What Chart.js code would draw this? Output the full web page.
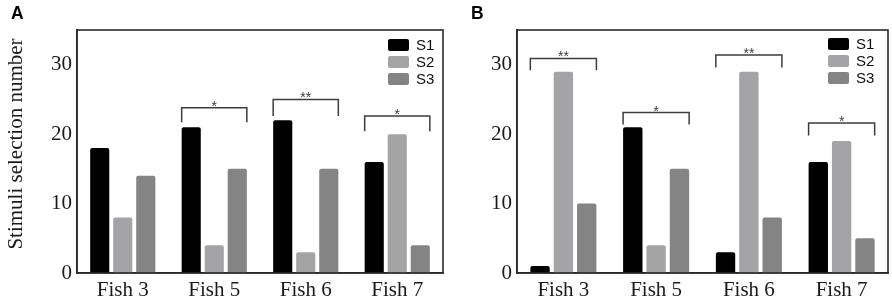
<!DOCTYPE html>
<html>
<head>
<meta charset="utf-8">
<script src="https://cdn.jsdelivr.net/npm/chart.js@4.4.1/dist/chart.umd.min.js"></script>
<style>
  html, body { margin: 0; padding: 0; background: #fff; }
  #wrap { position: relative; width: 892px; height: 307px; overflow: hidden; }
  .panel { position: absolute; top: 0; height: 307px; }
  #pa { left: 0; width: 450px; }
  #pb { left: 450px; width: 442px; }
  .letter { position: absolute; top: 3px; font: bold 17.5px "Liberation Sans", Arial, sans-serif; color: #000; }
</style>
</head>
<body>
<div id="wrap">
  <div class="panel" id="pa"><canvas id="ca" width="450" height="307"></canvas></div>
  <div class="panel" id="pb"><canvas id="cb" width="442" height="307"></canvas></div>
  <div class="letter" style="left:11px;">A</div>
  <div class="letter" style="left:471px;">B</div>
</div>
<script>
// ---- data ----
const categories = ['Fish 3', 'Fish 5', 'Fish 6', 'Fish 7'];
const seriesNames = ['S1', 'S2', 'S3'];
const seriesColors = ['#000000', '#a4a4a7', '#848484'];

const aS1 = [18, 21, 22, 16];
const aS2 = [8, 4, 3, 20];
const aS3 = [14, 15, 15, 4];

const bS1 = [1, 21, 3, 16];
const bS2 = [29, 4, 29, 19];
const bS3 = [10, 15, 8, 5];

const yTicks = [0, 10, 20, 30];
const yMax = 35;
const yTitle = 'Stimuli selection number';

// significance brackets: category index, top value, leg bottom value, label
const aBracketCat = [1, 2, 3];
const aBracketTop = [23.8, 25.0, 22.6];
const aBracketLeg = [21.7, 22.6, 20.4];
const aBracketLabel = ['*', '**', '*'];

const bBracketCat = [0, 1, 2, 3];
const bBracketTop = [30.9, 23.1, 31.4, 21.6];
const bBracketLeg = [29.2, 21.4, 29.6, 19.8];
const bBracketLabel = ['**', '*', '**', '*'];

const SERIF = '"Liberation Serif", "Times New Roman", serif';
const SANS = '"Liberation Sans", Arial, sans-serif';

const framePlugin = {
  id: 'frame',
  afterDraw(chart) {
    const { ctx, chartArea: a } = chart;
    ctx.save();
    ctx.strokeStyle = '#2a2a2a';
    ctx.lineWidth = 1.6;
    ctx.strokeRect(a.left, a.top, a.right - a.left, a.bottom - a.top);
    ctx.restore();
  }
};

const bracketPlugin = {
  id: 'brackets',
  afterDatasetsDraw(chart, args, opts) {
    const { ctx } = chart;
    const y = chart.scales.y;
    const first = chart.getDatasetMeta(0).data;
    const last = chart.getDatasetMeta(chart.data.datasets.length - 1).data;
    ctx.save();
    ctx.strokeStyle = '#3c3c3c';
    ctx.lineWidth = 1.5;
    opts.cats.forEach((ci, k) => {
      const b0 = first[ci], b1 = last[ci];
      const x0 = b0.x - b0.width / 2;
      const x1 = b1.x + b1.width / 2;
      const yt = y.getPixelForValue(opts.top[k]);
      const yl = y.getPixelForValue(opts.leg[k]);
      ctx.beginPath();
      ctx.moveTo(x0, yl);
      ctx.lineTo(x0, yt);
      ctx.lineTo(x1, yt);
      ctx.lineTo(x1, yl);
      ctx.stroke();
      ctx.fillStyle = '#3c3c3c';
      ctx.font = '14px ' + SANS;
      ctx.textAlign = 'center';
      ctx.textBaseline = 'alphabetic';
      ctx.fillText(opts.labels[k], (x0 + x1) / 2, yt + 3);
    });
    ctx.restore();
  }
};

const legendPlugin = {
  id: 'insideLegend',
  afterDraw(chart, args, opts) {
    const { ctx } = chart;
    ctx.save();
    chart.data.datasets.forEach((ds, i) => {
      const x = opts.x;
      const y = opts.y + i * 17;
      ctx.fillStyle = ds.backgroundColor;
      ctx.beginPath();
      ctx.roundRect(x, y, 21, 12, 2);
      ctx.fill();
      ctx.fillStyle = '#111';
      ctx.font = '15px ' + SANS;
      ctx.textAlign = 'left';
      ctx.textBaseline = 'middle';
      ctx.fillText(ds.label, x + 28, y + 6.5);
    });
    ctx.restore();
  }
};

const titlePlugin = {
  id: 'sideTitle',
  afterDraw(chart, args, opts) {
    if (!opts.text) return;
    const { ctx } = chart;
    ctx.save();
    ctx.translate(opts.x, opts.y);
    ctx.rotate(-Math.PI / 2);
    ctx.fillStyle = '#1a1a1a';
    ctx.font = '21px ' + SERIF;
    ctx.textAlign = 'center';
    ctx.textBaseline = 'middle';
    ctx.fillText(opts.text, 0, 0);
    ctx.restore();
  }
};

function makeChart(id, s1, s2, s3, yWidth, padRight, title, brackets, legendPos) {
  const vals = [s1, s2, s3];
  return new Chart(document.getElementById(id), {
    type: 'bar',
    data: {
      labels: categories,
      datasets: seriesNames.map((n, i) => ({
        label: n,
        data: vals[i],
        backgroundColor: seriesColors[i],
        borderRadius: 2,
        borderSkipped: 'bottom',
        categoryPercentage: 0.755,
        barPercentage: 0.83
      }))
    },
    options: {
      responsive: false,
      animation: false,
      devicePixelRatio: 1,
      layout: { padding: { left: 0, right: padRight, top: 30, bottom: 0 } },
      plugins: {
        legend: { display: false },
        tooltip: { enabled: false },
        brackets: brackets,
        insideLegend: legendPos,
        sideTitle: title
      },
      scales: {
        x: {
          grid: { display: false, drawTicks: true, tickLength: 5, tickColor: '#2a2a2a', tickWidth: 1.6, offset: true },
          border: { display: true, color: '#2a2a2a', width: 1.6 },
          ticks: { color: '#1a1a1a', font: { family: SERIF, size: 21 }, padding: 0, maxRotation: 0 },
          afterFit(s) { s.height = 34; }
        },
        y: {
          min: 0, max: yMax,
          grid: { display: false, drawTicks: true, tickLength: 5, tickColor: '#2a2a2a', tickWidth: 1.6 },
          border: { display: true, color: '#2a2a2a', width: 1.6 },
          ticks: { color: '#1a1a1a', font: { family: SERIF, size: 21 }, padding: 0 },
          afterBuildTicks(s) { s.ticks = yTicks.map(v => ({ value: v })); },
          afterFit(s) { s.width = yWidth; }
        }
      }
    },
    plugins: [framePlugin, bracketPlugin, legendPlugin, titlePlugin]
  });
}

makeChart('ca', aS1, aS2, aS3, 77, 7, { text: yTitle, x: 16, y: 144 },
  { cats: aBracketCat, top: aBracketTop, leg: aBracketLeg, labels: aBracketLabel },
  { x: 388, y: 39 });
makeChart('cb', bS1, bS2, bS3, 67, 4, { text: '' },
  { cats: bBracketCat, top: bBracketTop, leg: bBracketLeg, labels: bBracketLabel },
  { x: 378, y: 38 });
</script>
</body>
</html>
